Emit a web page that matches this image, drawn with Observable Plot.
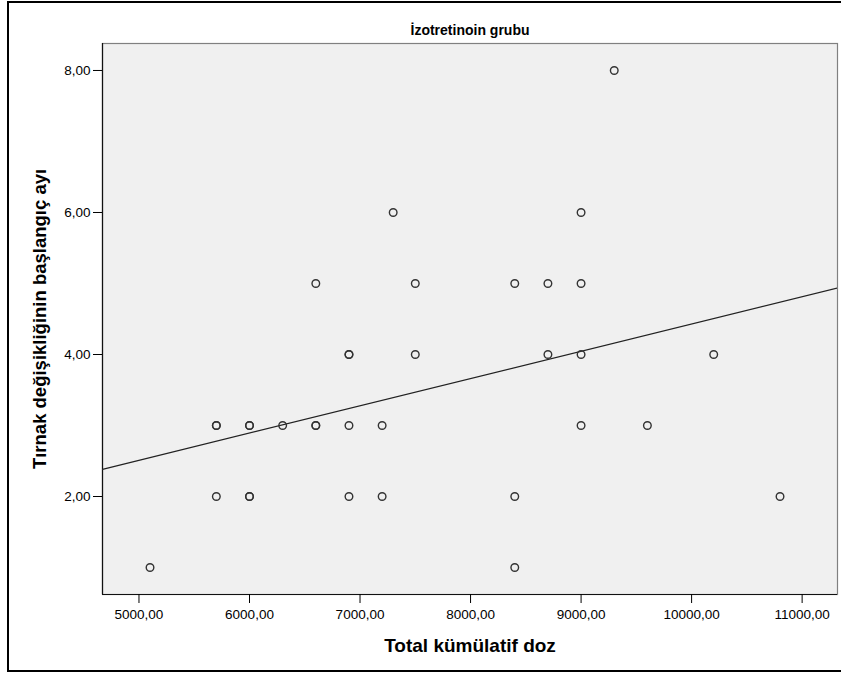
<!DOCTYPE html>
<html>
<head>
<meta charset="utf-8">
<script src="https://cdn.jsdelivr.net/npm/d3@7"></script>
<script src="https://cdn.jsdelivr.net/npm/@observablehq/plot@0.6"></script>
<style>
  html, body { margin: 0; padding: 0; background: #fff; }
  #wrap { position: relative; width: 841px; height: 677px; overflow: hidden; }
  #border { position: absolute; left: 7px; top: 1px; width: 850px; height: 671px; border: 2px solid #000; box-sizing: border-box; pointer-events: none; }
</style>
</head>
<body>
<div id="wrap"><div id="border"></div></div>
<script>
const titleText = "İzotretinoin grubu";
const xLabel = "Total kümülatif doz";
const yLabel = "Tırnak değişikliğinin başlangıç ayı";

const doses  = [5100,5700,5700,5700,6000,6000,6000,6000,6300,6600,6600,6600,6900,6900,6900,6900,7200,7200,7300,7500,7500,8400,8400,8400,8700,8700,9000,9000,9000,9000,9300,9600,10200,10800];
const months = [1,3,3,2,3,3,2,2,3,5,3,3,4,4,3,2,3,2,6,5,4,5,2,1,5,4,6,5,4,3,8,3,4,2];

const xTicks = [5000, 6000, 7000, 8000, 9000, 10000, 11000];
const yTicks = [2, 4, 6, 8];
const xDomain = [4670, 11320];
const yDomain = [0.62, 8.38];

const data = doses.map((d, i) => ({dose: d, month: months[i]}));

// least-squares fit line across the full x axis
const mx = d3.mean(doses), my = d3.mean(months);
const slope = d3.sum(data, d => (d.dose - mx) * (d.month - my)) / d3.sum(data, d => (d.dose - mx) ** 2);
const intercept = my - slope * mx;
const fit = xDomain.map(x => ({dose: x, month: intercept + slope * x}));

const fmt = v => d3.format(".2f")(v).replace(".", ",");

const chart = Plot.plot({
  width: 841,
  height: 677,
  marginLeft: 102,
  marginRight: 4,
  marginTop: 43,
  marginBottom: 83,
  style: {fontFamily: "'Liberation Sans', Arial, sans-serif", background: "transparent", color: "#000"},
  x: {domain: xDomain},
  y: {domain: yDomain},
  marks: [
    Plot.frame({fill: "#f0f0f0", stroke: "#808080", strokeWidth: 1.2}),
    Plot.ruleX([xDomain[0]], {stroke: "#111", strokeWidth: 1.2}),
    Plot.ruleY([yDomain[0]], {stroke: "#111", strokeWidth: 1.2}),
    Plot.line(fit, {x: "dose", y: "month", stroke: "#222", strokeWidth: 1.2, clip: true}),
    Plot.dot(data, {x: "dose", y: "month", r: 3.8, stroke: "#333", strokeWidth: 1.4, fill: "none"}),
    Plot.axisX({ticks: xTicks, tickFormat: fmt, tickSize: 9, tickPadding: 6, fontSize: 13.5, label: null, stroke: "#000"}),
    Plot.axisY({ticks: yTicks, tickFormat: fmt, tickSize: 9, tickPadding: 3, fontSize: 13.5, label: null, stroke: "#000"}),
    Plot.text([titleText], {frameAnchor: "top", dy: -9, lineAnchor: "bottom", fontWeight: "bold", fontSize: 14, fill: "#000"}),
    Plot.text([xLabel], {frameAnchor: "bottom", dy: 57, lineAnchor: "bottom", fontWeight: "bold", fontSize: 19, fill: "#000"}),
    Plot.text([yLabel], {frameAnchor: "left", dx: -62, rotate: -90, textAnchor: "middle", lineAnchor: "middle", fontWeight: "bold", fontSize: 18.5, fill: "#000"})
  ]
});
document.getElementById("wrap").prepend(chart);
</script>
</body>
</html>
